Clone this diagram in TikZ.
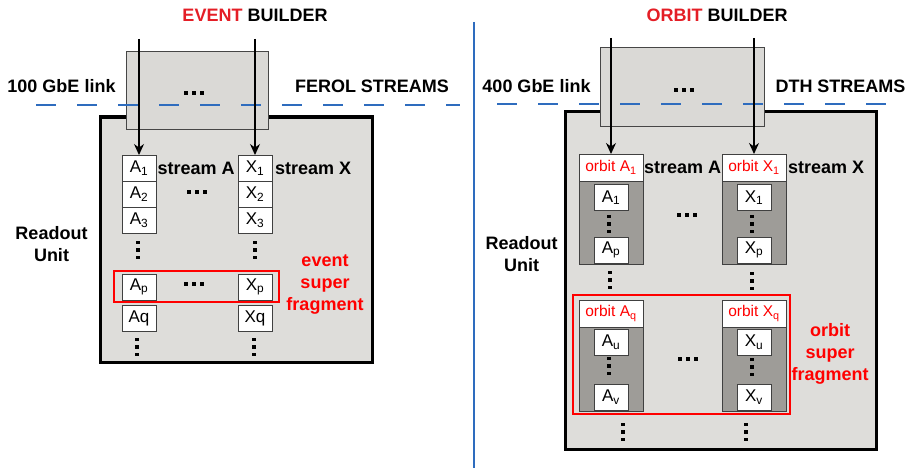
\documentclass[tikz,border=0pt]{standalone}
\usepackage{fontspec}
\setmainfont{Liberation Sans}
\usepackage{tikz}
\usetikzlibrary{arrows.meta}
\usetikzlibrary{positioning}
\definecolor{rufill}{RGB}{222,221,218}
\definecolor{bldfill}{RGB}{218,217,214}
\definecolor{bldline}{RGB}{70,70,70}
\definecolor{orbfill}{RGB}{158,156,152}
\definecolor{linkblue}{RGB}{46,108,190}
\definecolor{titlered}{RGB}{228,30,38}
\newcommand{\bigfont}{\fontsize{18}{22}\selectfont\bfseries}
\newcommand{\fragfont}{\fontsize{17}{20}\selectfont}
\newcommand{\orbfont}{\fontsize{15.5}{18}\selectfont}
\tikzstyle{readout}=[draw=black, line width=3pt, fill=rufill, inner sep=0, outer sep=0]
\tikzstyle{builder}=[draw=bldline, line width=1pt, fill=bldfill, inner sep=0, outer sep=0]
\tikzstyle{frag}=[draw=black!75, line width=1pt, fill=white, inner sep=0, outer sep=0,
                  minimum width=34pt, minimum height=26pt, font=\fragfont]
\tikzstyle{orbhead}=[draw=black!75, line width=1pt, fill=white, inner sep=0, outer sep=0,
                     minimum width=64pt, minimum height=27pt, text=red, font=\orbfont]
\tikzstyle{orbbody}=[draw=black!75, line width=1pt, fill=orbfill, inner sep=0, outer sep=0,
                     minimum width=64pt]
\tikzstyle{superfrag}=[draw=red, line width=2.5pt]
\tikzstyle{lbl}=[font=\bigfont, inner sep=0, align=center]
\tikzstyle{feed}=[line width=1.2pt, -{Stealth[length=11pt, width=10pt]}]
\tikzstyle{link}=[linkblue, line width=2.5pt, dash pattern=on 20pt off 21pt]
\tikzset{vdots/.pic={\foreach \d in {-7.5,0,7.5} \fill (-1.8,\d-1.8) rectangle (1.8,\d+1.8);},
         hdots/.pic={\foreach \d in {-8,0,8} \fill (\d-2,-2) rectangle (\d+2,2);}}

\begin{document}
\begin{tikzpicture}[x=1pt, y=-1pt]
    \useasboundingbox (0,0) rectangle (909,468);

    % event builder (left)
    \node[readout, minimum width=272pt, minimum height=245pt] (eunit) at (236,239.5) {};
    \node[builder, minimum width=142pt, minimum height=77pt] (ebld) at (197,90.5) {};
    \pic at (194,93) {hdots};
    \draw[link] (36,105) -- (460,105);
    \node[lbl] (etitle) at (255,15) {\textcolor{titlered}{EVENT} BUILDER};
    \node[lbl] (elink) at (61.5,86.5) {100 GbE link};
    \node[lbl] (estreams) at (372,86.5) {FEROL STREAMS};
    \node[lbl] (eru) at (51.5,244) {Readout\\Unit};

    \foreach \i/\y in {1/168,2/194,3/220} {
        \node[frag] (eA\i) at (139,\y) {A\textsubscript{\i}};
        \node[frag] (eX\i) at (255,\y) {X\textsubscript{\i}};
    }
    \node[frag] (eAp) at (139,287) {A\textsubscript{p}};
    \node[frag] (eXp) at (255,287) {X\textsubscript{p}};
    \node[frag] (eAq) at (139,318) {Aq};
    \node[frag] (eXq) at (255,318) {Xq};
    \node[lbl, right=1.5pt of eA1] (estreama) {stream A};
    \node[lbl, right=3pt of eX1] (estreamx) {stream X};
    \pic at (197,192) {hdots};
    \pic at (194,284) {hdots};
    \pic at (138,250) {vdots};
    \pic at (255,250) {vdots};
    \pic at (137,347) {vdots};
    \pic at (254,347) {vdots};
    \draw[superfrag] (114,271) rectangle (279,302);
    \node[lbl, text=red] (esf) at (325,285) {event\\super\\fragment};

    \coordinate (eina) at (139,39);
    \coordinate (einx) at (255,39);
    \draw[feed] (eina) -- (eA1.north);
    \draw[feed] (einx) -- (eX1.north);

    % divider
    \draw[linkblue, line width=2pt] (474,22) -- (474,468);

    % orbit builder (right)
    \node[readout, minimum width=311pt, minimum height=337pt] (ounit) at (720.5,280.5) {};
    \node[builder, minimum width=164pt, minimum height=78pt] (obld) at (682,87) {};
    \pic at (684,90) {hdots};
    \draw[link] (497,104) -- (888,104);
    \node[lbl] (otitle) at (717,15) {\textcolor{titlered}{ORBIT} BUILDER};
    \node[lbl] (olink) at (536.5,86.5) {400 GbE link};
    \node[lbl] (ostreams) at (840.5,86.5) {DTH STREAMS};
    \node[lbl] (oru) at (521.5,254) {Readout\\Unit};

    % first orbit of each stream
    \node[orbhead] (oA1h) at (611,167.5) {orbit A\textsubscript{1}};
    \node[orbbody, minimum height=83pt, below=0pt of oA1h] (oA1b) {};
    \node[orbhead] (oX1h) at (754,167.5) {orbit X\textsubscript{1}};
    \node[orbbody, minimum height=83pt, below=0pt of oX1h] (oX1b) {};
    \node[frag] (oA1) at (611,197.5) {A\textsubscript{1}};
    \node[frag] (oAp) at (611,250) {A\textsubscript{p}};
    \node[frag] (oX1) at (754,197.5) {X\textsubscript{1}};
    \node[frag] (oXp) at (754,250) {X\textsubscript{p}};
    \pic at (609,224) {vdots};
    \pic at (752,224) {vdots};
    \node[lbl, right=1pt of oA1h] (ostreama) {stream A};
    \node[lbl, right=2pt of oX1h] (ostreamx) {stream X};
    \pic at (687,215) {hdots};
    \pic at (610,280) {vdots};
    \pic at (752,281) {vdots};

    % orbit q
    \node[orbhead] (oAqh) at (611,313.5) {orbit A\textsubscript{q}};
    \node[orbbody, minimum height=84pt, below=0pt of oAqh] (oAqb) {};
    \node[orbhead] (oXqh) at (754,313.5) {orbit X\textsubscript{q}};
    \node[orbbody, minimum height=84pt, below=0pt of oXqh] (oXqb) {};
    \node[frag] (oAu) at (611,342) {A\textsubscript{u}};
    \node[frag] (oAv) at (611,397) {A\textsubscript{v}};
    \node[frag] (oXu) at (754,342) {X\textsubscript{u}};
    \node[frag] (oXv) at (754,397) {X\textsubscript{v}};
    \pic at (609,366) {vdots};
    \pic at (752,367) {vdots};
    \pic at (688,359) {hdots};
    \draw[superfrag] (573,295) rectangle (790,414);
    \node[lbl, text=red] (osf) at (830,354) {orbit\\super\\fragment};
    \pic at (623,432) {vdots};
    \pic at (746,432) {vdots};

    \coordinate (oina) at (611,38);
    \coordinate (oinx) at (754,38);
    \draw[feed] (oina) -- (oA1h.north);
    \draw[feed] (oinx) -- (oX1h.north);
\end{tikzpicture}
\end{document}
